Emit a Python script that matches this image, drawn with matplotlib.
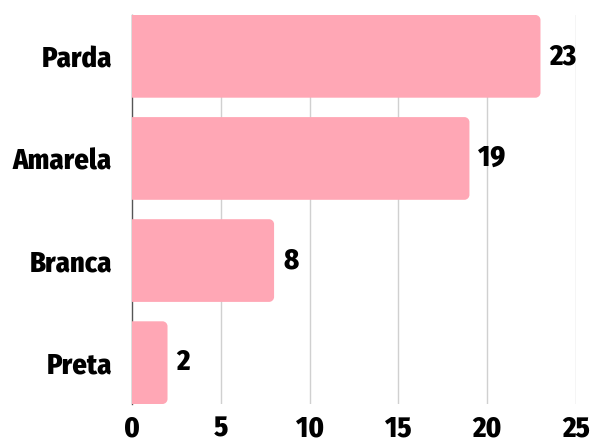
import matplotlib
matplotlib.use("Agg")
import matplotlib.pyplot as plt
from matplotlib.path import Path
from matplotlib.patches import PathPatch

categories = ["Parda", "Amarela", "Branca", "Preta"]
values = [23, 19, 8, 2]
x_ticks = [0, 5, 10, 15, 20, 25]

plt.rcParams["font.family"] = ["Fira Sans Condensed", "DejaVu Sans"]
plt.rcParams["font.weight"] = 800

BAR_COLOR = "#FFA7B5"
BAR_H = 0.81
FS = 20.5
WEIGHT = 800

fig = plt.figure(figsize=(5.92, 4.43), dpi=100)
ax = fig.add_axes([132 / 592, 1 - 404 / 443, (576 - 132) / 592, (404 - 15) / 443])
ax.set_xlim(0, 25)
ax.set_ylim(len(categories) - 1 + BAR_H / 2, -BAR_H / 2)

ypos = list(range(len(categories)))

# pixel-to-data scale for rounding the bar ends
fig.canvas.draw()
bbox = ax.get_window_extent()
px_x = 25 / bbox.width
px_y = (len(categories) - 1 + BAR_H) / bbox.height
r = 5.0
rx, ry = r * px_x, r * px_y
k = 0.5523


def rounded_bar(y, w):
    top, bot = y - BAR_H / 2, y + BAR_H / 2
    verts = [
        (0, top), (w - rx, top),
        (w - rx + k * rx, top), (w, top + ry - k * ry), (w, top + ry),
        (w, bot - ry),
        (w, bot - ry + k * ry), (w - rx + k * rx, bot), (w - rx, bot),
        (0, bot), (0, top),
    ]
    codes = [Path.MOVETO, Path.LINETO,
             Path.CURVE4, Path.CURVE4, Path.CURVE4,
             Path.LINETO,
             Path.CURVE4, Path.CURVE4, Path.CURVE4,
             Path.LINETO, Path.CLOSEPOLY]
    return PathPatch(Path(verts, codes), facecolor=BAR_COLOR, edgecolor="none", zorder=3)


for y, v in zip(ypos, values):
    ax.add_patch(rounded_bar(y, v))
    ax.text(v + 9 * px_x, y, str(v), va="center", ha="left",
            fontsize=FS, fontweight=WEIGHT, color="black", zorder=4)

ax.set_yticks(ypos)
ax.set_yticklabels(categories, fontsize=FS, fontweight=WEIGHT)
ax.set_xticks(x_ticks)
ax.set_xticklabels([str(t) for t in x_ticks], fontsize=FS, fontweight=WEIGHT)
ax.tick_params(axis="both", length=0)
ax.tick_params(axis="y", pad=14.4)
ax.tick_params(axis="x", pad=8)

for xv in x_ticks[1:]:
    ax.axvline(xv, color="#d0d0d0", linewidth=1, zorder=1)

for side in ["top", "right", "bottom"]:
    ax.spines[side].set_visible(False)
ax.spines["left"].set_color("#555555")
ax.spines["left"].set_linewidth(1)
ax.spines["left"].set_zorder(2)

fig.savefig("out.png", dpi=100)
